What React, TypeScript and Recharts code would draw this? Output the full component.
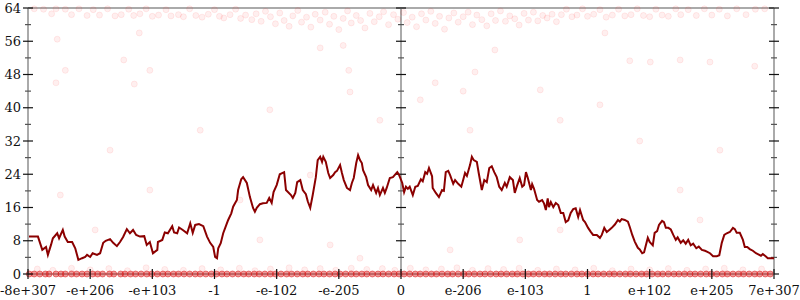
import React from "react";
import {
  ComposedChart,
  Line,
  Scatter,
  XAxis,
  YAxis,
  ReferenceLine,
} from "recharts";

// x 축 위치(-6..6)와 라벨
const xTicks = [-6, -5, -4, -3, -2, -1, 0, 1, 2, 3, 4, 5, 6];
const xLabels = [
  "-8e+307", "-e+206", "-e+103", "-1", "-e-102", "-e-205", "0",
  "e-206", "e-103", "1", "e+102", "e+205", "7e+307",
];
const yTicks = [0, 4, 8, 12, 16, 20, 24, 28, 32, 36, 40, 44, 48, 52, 56, 60, 64];

// 이동 평균 선
const lineX = [
  -6, -5.84, -5.77, -5.71, -5.68, -5.63, -5.6, -5.53, -5.5, -5.44,
  -5.41, -5.36, -5.29, -5.24, -5.19, -5.13, -5.08, -5.05, -5, -4.96,
  -4.89, -4.84, -4.79, -4.75, -4.68, -4.63, -4.57, -4.52, -4.47, -4.41,
  -4.36, -4.31, -4.26, -4.2, -4.13, -4.09, -4.04, -3.99, -3.92, -3.91,
  -3.84, -3.8, -3.75, -3.68, -3.65, -3.6, -3.57, -3.51, -3.44, -3.39,
  -3.35, -3.31, -3.25, -3.18, -3.12, -3.07, -3.02, -2.99, -2.96, -2.94,
  -2.9, -2.86, -2.81, -2.78, -2.73, -2.7, -2.67, -2.64, -2.62, -2.57,
  -2.54, -2.48, -2.43, -2.38, -2.35, -2.32, -2.27, -2.22, -2.16, -2.12,
  -2.08, -2.05, -2, -1.95, -1.88, -1.85, -1.77, -1.74, -1.7, -1.67,
  -1.62, -1.58, -1.53, -1.5, -1.46, -1.42, -1.37, -1.34, -1.3, -1.27,
  -1.25, -1.21, -1.17, -1.14, -1.09, -1.06, -1.03, -0.98, -0.95, -0.92,
  -0.87, -0.82, -0.79, -0.76, -0.72, -0.69, -0.66, -0.63, -0.61, -0.56,
  -0.53, -0.48, -0.45, -0.4, -0.37, -0.34, -0.29, -0.26, -0.23, -0.18,
  -0.13, -0.06, -0.03, 0.02, 0.05, 0.08, 0.11, 0.14, 0.19, 0.23,
  0.27, 0.32, 0.35, 0.39, 0.42, 0.45, 0.5, 0.51, 0.56, 0.61,
  0.66, 0.69, 0.72, 0.76, 0.79, 0.84, 0.87, 0.92, 0.97, 1,
  1.03, 1.06, 1.11, 1.14, 1.17, 1.22, 1.25, 1.3, 1.34, 1.38,
  1.42, 1.46, 1.5, 1.54, 1.58, 1.62, 1.67, 1.7, 1.75, 1.8,
  1.83, 1.87, 1.91, 1.95, 1.98, 2.01, 2.04, 2.09, 2.11, 2.14,
  2.19, 2.22, 2.27, 2.3, 2.33, 2.36, 2.38, 2.41, 2.45, 2.49,
  2.53, 2.57, 2.61, 2.65, 2.69, 2.73, 2.77, 2.81, 2.85, 2.88,
  2.93, 2.96, 3.01, 3.05, 3.09, 3.15, 3.2, 3.23, 3.27, 3.31,
  3.35, 3.39, 3.44, 3.49, 3.52, 3.55, 3.6, 3.65, 3.68, 3.72,
  3.76, 3.81, 3.84, 3.88, 3.91, 3.94, 3.97, 4, 4.05, 4.08,
  4.12, 4.15, 4.2, 4.23, 4.26, 4.3, 4.34, 4.38, 4.42, 4.45,
  4.5, 4.54, 4.58, 4.62, 4.66, 4.7, 4.75, 4.79, 4.84, 4.89,
  4.92, 4.97, 5.02, 5.08, 5.12, 5.16, 5.2, 5.24, 5.29, 5.34,
  5.37, 5.4, 5.45, 5.5, 5.53, 5.57, 5.61, 5.66, 5.71, 5.74,
  5.79, 5.82, 5.87, 5.9, 6,
];
const lineY = [
  9, 9, 5.8, 6.5, 4.6, 7, 8.6, 9.8, 8.6, 10.6,
  9, 7.7, 7.7, 6.2, 3.4, 3.8, 4.1, 4.6, 4.1, 5,
  4.6, 5, 7.5, 8, 8.4, 7.5, 6.7, 7.7, 8.9, 10.8,
  9.8, 10.6, 9.4, 9, 9.1, 7, 7.7, 5, 5.8, 7.7,
  8.2, 10, 9.8, 11.5, 10, 9.8, 11.2, 10.6, 9.8, 12.2,
  9.9, 11.8, 12, 11.5, 9, 7.5, 6.5, 4.1, 3.8, 6.2,
  7.4, 9.8, 11.8, 13, 14.6, 16.2, 17, 17.8, 20.2, 22.8,
  23.3, 21.9, 18.5, 15.9, 15, 15.9, 16.8, 17, 17.1, 18.3,
  17.1, 19.7, 21.4, 24, 24.5, 20.2, 19, 18.3, 19.5, 22.1,
  22.6, 20.2, 19.2, 17.5, 15.9, 19, 23.3, 27.4, 28.2, 27,
  28.2, 27, 24.3, 23.1, 23.8, 24.5, 24.8, 26.2, 24.3, 22.6,
  20.7, 20.2, 21.9, 23.1, 26.7, 28.6, 27.4, 26.7, 25, 23.3,
  21.4, 20.2, 21.4, 19.5, 20.7, 19, 20.7, 19.5, 20.7, 23.1,
  23.3, 24.5, 23.8, 21.9, 19.7, 21, 20.5, 21, 19, 21,
  21.2, 22.8, 22.3, 24.5, 24.1, 25.5, 23.5, 20.7, 19.5, 18.5,
  20.2, 20, 24.5, 24.8, 23.8, 21.7, 22.6, 21.7, 21, 22.6,
  24.3, 23.6, 26.2, 28.2, 27.4, 27, 24.3, 20.2, 22.6, 22.1,
  25.5, 25.9, 24.5, 23.3, 21, 20.2, 21.9, 21, 23.3, 22.6,
  19.5, 21.4, 23.1, 21, 21.4, 24.5, 23.1, 20.2, 21.6, 20.5,
  17.8, 17.4, 17.8, 17, 15.4, 18.2, 16.1, 17.3, 16.1, 17.1,
  16.6, 14.7, 14.7, 12.5, 12.9, 14.7, 15.6, 15.8, 13.7, 15.4,
  13, 12.5, 11.1, 10.2, 9.4, 9.4, 8.7, 9.4, 11.1, 10.1,
  10.6, 11.1, 11.9, 13, 12.6, 13.2, 13, 12.6, 11.3, 9.4,
  7.8, 6.3, 5.9, 5, 5.2, 7, 8.7, 7.7, 6.9, 9.9,
  10.3, 11.8, 12.8, 12.5, 11.1, 11.1, 10.7, 9.4, 8.2, 8.8,
  7.5, 8.1, 7.3, 8.2, 6.9, 7.3, 6.2, 6.6, 5.8, 5.6,
  5.4, 5, 4.3, 4.3, 4.5, 7.5, 9.4, 9.8, 10.1, 11.1,
  10.8, 9.9, 9.9, 8.2, 6.5, 6.5, 6, 5.6, 5, 4.8,
  4.4, 4.8, 4.2, 3.8, 3.8,
];

// 상단 띠 (60~64)
const topPoints: [number, number][] = [
  [-5.9, 63.8], [-5.75, 63.7], [-5.62, 62.6], [-5.55, 63.8], [-5.4, 63.7], [-5.3, 62.4],
  [-5.18, 63.8], [-5.05, 62.2], [-4.95, 63.6], [-4.85, 62.3], [-4.72, 63.8], [-4.6, 62.1],
  [-4.5, 62.4], [-4.38, 63.7], [-4.3, 62.2], [-4.2, 62.6], [-4.1, 63.8], [-4.0, 62.0],
  [-3.9, 62.3], [-3.78, 63.6], [-3.7, 62.1], [-3.58, 62.4], [-3.5, 61.9], [-3.4, 63.8],
  [-3.3, 62.2], [-3.2, 61.8], [-3.1, 62.5], [-3.0, 63.6], [-2.92, 62.0], [-2.85, 61.6],
  [-2.75, 62.4], [-2.66, 63.7], [-2.58, 61.5], [-2.5, 62.3], [-2.4, 61.2], [-2.33, 62.6],
  [-2.25, 60.8], [-2.18, 63.2], [-2.1, 61.9], [-2.02, 60.2], [-1.95, 62.8], [-1.88, 61.0],
  [-1.8, 59.6], [-1.74, 62.1], [-1.66, 63.4], [-1.6, 60.6], [-1.52, 61.8], [-1.45, 59.4],
  [-1.38, 62.5], [-1.3, 61.1], [-1.22, 63.0], [-1.15, 60.1], [-1.08, 62.0], [-1.0, 58.8],
  [-0.93, 61.5], [-0.86, 63.3], [-0.8, 60.4], [-0.72, 62.2], [-0.65, 61.0], [-0.58, 59.2],
  [-0.5, 62.7], [-0.43, 60.7], [-0.35, 61.9], [-0.28, 63.1], [-0.2, 60.0], [-0.12, 62.4],
  [-0.05, 61.3], [0.04, 62.9], [0.1, 60.5], [0.18, 61.8], [0.25, 59.5], [0.33, 62.6],
  [0.4, 61.1], [0.48, 63.2], [0.55, 60.3], [0.62, 62.0], [0.7, 58.9], [0.77, 61.6],
  [0.85, 62.8], [0.92, 60.6], [1.0, 61.9], [1.08, 63.0], [1.15, 60.0], [1.22, 62.3],
  [1.3, 61.2], [1.38, 59.7], [1.45, 62.6], [1.52, 61.0], [1.6, 63.3], [1.68, 60.8],
  [1.75, 62.1], [1.83, 61.4], [1.9, 59.9], [1.98, 62.7], [2.05, 61.1], [2.13, 63.0],
  [2.2, 60.9], [2.28, 62.2], [2.35, 61.6], [2.43, 62.5], [2.5, 60.7], [2.58, 62.4],
  [2.66, 63.7], [2.75, 61.9], [2.83, 62.3], [2.92, 63.8], [3.0, 62.0], [3.1, 62.5],
  [3.2, 63.6], [3.3, 61.8], [3.4, 62.3], [3.5, 63.7], [3.6, 62.1], [3.7, 62.4],
  [3.8, 63.8], [3.9, 62.2], [4.0, 61.9], [4.1, 63.7], [4.2, 62.3], [4.3, 62.0],
  [4.42, 63.8], [4.5, 62.4], [4.62, 63.6], [4.75, 62.2], [4.88, 63.8], [5.0, 62.3],
  [5.12, 63.7], [5.25, 62.1], [5.4, 63.8], [5.55, 62.4], [5.7, 63.7], [5.85, 63.8],
];

// 흩어진 점
const sparsePoints: [number, number][] = [
  [-5.53, 56.5], [-5.4, 49], [-5.55, 46], [-4.46, 51.5], [-4.21, 58], [-4.04, 49],
  [-4.29, 45.7], [-1.3, 54.4], [-0.93, 55], [-0.84, 49], [-0.82, 43.8], [0.55, 46],
  [1.0, 44], [1.19, 48.6], [1.51, 53.9], [3.28, 58], [3.68, 51.3], [4.01, 51],
  [4.49, 51.5], [4.97, 51], [5.69, 50], [-3.23, 34.6], [-2.11, 39.5], [-4.68, 29.8],
  [-1.46, 23.8], [1.11, 34.6], [2.56, 37], [3.84, 32], [5.13, 29.8], [-4.92, 10.6],
  [-2.27, 8.2], [-1.14, 7], [-0.66, 3.8], [0.79, 5.8], [1.91, 8.2], [2.56, 10.6],
  [4.81, 13], [4.49, 20.2], [-4.04, 20.2], [-2.59, 17.8], [-5.48, 19], [-0.34, 37],
  [0.31, 41.9], [2.24, 44.3], [3.2, 40.7],
];

// 하단 (약 1)
const lowPoints: [number, number][] = [
  [-5.85, 1.2], [-5.6, 0.9], [-5.3, 1.4], [-5.0, 1.0], [-4.7, 1.3], [-4.4, 0.8],
  [-4.1, 1.5], [-3.8, 1.1], [-3.5, 0.9], [-3.2, 1.3], [-2.9, 1.0], [-2.6, 1.4],
  [-2.35, 0.8], [-2.1, 1.2], [-1.8, 1.5], [-1.55, 1.0], [-1.3, 1.3], [-1.05, 0.9],
  [-0.8, 1.4], [-0.55, 1.1], [-0.3, 1.3], [-0.1, 0.9], [0.15, 1.4], [0.4, 1.0],
  [0.65, 1.2], [0.9, 1.5], [1.15, 0.9], [1.4, 1.3], [1.65, 1.1], [1.9, 1.4],
  [2.2, 0.9], [2.5, 1.2], [2.8, 1.0], [3.1, 1.4], [3.4, 0.8], [3.7, 1.2],
  [4.0, 1.0], [4.3, 1.3], [4.6, 0.9], [4.9, 1.2], [5.2, 1.4], [5.5, 1.0], [5.8, 1.2],
];

// 값이 0인 점들의 x 위치
const zeroX = [
  -5.98, -5.9, -5.81, -5.72, -5.66, -5.55, -5.47, -5.4, -5.3, -5.22, -5.13, -5.05,
  -4.96, -4.88, -4.8, -4.69, -4.62, -4.51, -4.44, -4.35, -4.27, -4.18, -4.09, -4.01,
  -3.92, -3.83, -3.75, -3.66, -3.58, -3.49, -3.4, -3.31, -3.23, -3.14, -3.05, -2.97,
  -2.88, -2.8, -2.71, -2.62, -2.53, -2.45, -2.36, -2.28, -2.19, -2.1, -2.02, -1.93,
  -1.84, -1.76, -1.67, -1.58, -1.5, -1.41, -1.32, -1.24, -1.15, -1.06, -0.98, -0.89,
  -0.8, -0.72, -0.63, -0.55, -0.46, -0.37, -0.29, -0.2, -0.11, -0.03, 0.05, 0.14,
  0.23, 0.31, 0.4, 0.49, 0.57, 0.66, 0.75, 0.83, 0.92, 1.01, 1.09, 1.18,
  1.27, 1.35, 1.44, 1.53, 1.61, 1.7, 1.79, 1.87, 1.96, 2.05, 2.13, 2.22,
  2.31, 2.39, 2.48, 2.57, 2.65, 2.74, 2.83, 2.91, 3, 3.09, 3.17, 3.26,
  3.35, 3.43, 3.52, 3.61, 3.69, 3.78, 3.87, 3.95, 4.04, 4.13, 4.21, 4.3,
  4.39, 4.47, 4.56, 4.65, 4.73, 4.82, 4.91, 4.99, 5.08, 5.17, 5.25, 5.34,
  5.43, 5.51, 5.6, 5.69, 5.77, 5.86, 5.94,
];

const FONT = "'DejaVu Serif', serif";
const AXIS = "#aaaaaa";

const lineData = lineX.map((x, i) => ({ x, y: lineY[i] }));
const toObj = (pts: [number, number][]) => pts.map(([x, y]) => ({ x, y }));
const scatterData = [
  ...toObj(topPoints),
  ...toObj(sparsePoints),
  ...toObj(lowPoints),
  ...zeroX.map((x) => ({ x, y: 0 })),
];

// 값 0인 점은 겹쳐서 진한 띠가 되도록 더 진하게
const Dot = (props: any) => {
  const zero = props.payload && props.payload.y === 0;
  return (
    <circle
      cx={props.cx}
      cy={props.cy}
      r={3}
      fill={zero ? "rgba(220,25,25,0.45)" : "rgba(255,30,30,0.07)"}
      stroke={zero ? "rgba(220,25,25,0.5)" : "rgba(255,30,30,0.08)"}
      strokeWidth={1}
    />
  );
};

const YTick = (props: any) => {
  const { x, y, payload } = props;
  const v = payload.value;
  const major = v % 8 === 0;
  return (
    <g>
      <line
        x1={x - (major ? 5 : 3)}
        x2={x + (major ? 5 : 3)}
        y1={y}
        y2={y}
        stroke={major ? "#111" : "#555"}
        strokeWidth={1.2}
      />
      {major && (
        <text x={x - 7} y={y + 4.5} textAnchor="end" fontFamily={FONT} fontSize={13} fill="#111">
          {v}
        </text>
      )}
    </g>
  );
};

const XTick = (props: any) => {
  const { x, y, payload } = props;
  const idx = xTicks.indexOf(payload.value);
  return (
    <g>
      <line x1={x} x2={x} y1={y - 5} y2={y + 5} stroke="#111" strokeWidth={1.2} />
      <text x={x} y={y + 21} textAnchor="middle" fontFamily={FONT} fontSize={13} fill="#111">
        {xLabels[idx]}
      </text>
    </g>
  );
};

// 가운데/오른쪽 세로 축 (양쪽 눈금)
const VAxis = (props: any) => {
  const { x1, y1, y2 } = props;
  const top = Math.min(y1, y2);
  const bottom = Math.max(y1, y2);
  return (
    <g>
      <line x1={x1} x2={x1} y1={top} y2={bottom} stroke={AXIS} strokeWidth={2} />
      {yTicks.map((v) => {
        const major = v % 8 === 0;
        const yy = bottom - ((bottom - top) * v) / 64;
        const h = major ? 5 : 3;
        return (
          <line
            key={v}
            x1={x1 - h}
            x2={x1 + h}
            y1={yy}
            y2={yy}
            stroke={major ? "#111" : "#555"}
            strokeWidth={1.2}
          />
        );
      })}
    </g>
  );
};

export default function App() {
  return (
    <div style={{ width: 800, height: 300 }}>
      <style>{"body{margin:0}"}</style>
      <ComposedChart
        width={800}
        height={300}
        margin={{ top: 8, right: 26, bottom: 0, left: 0 }}
      >
        <XAxis
          type="number"
          dataKey="x"
          domain={[-6, 6]}
          ticks={xTicks}
          interval={0}
          height={26}
          tickSize={0}
          tickMargin={0}
          tick={(p: any) => <XTick {...p} />}
          axisLine={{ stroke: AXIS, strokeWidth: 2 }}
        />
        <YAxis
          type="number"
          dataKey="y"
          domain={[0, 64]}
          ticks={yTicks}
          interval={0}
          width={28}
          tickSize={0}
          tickMargin={0}
          tick={(p: any) => <YTick {...p} />}
          axisLine={{ stroke: AXIS, strokeWidth: 2 }}
        />
        <ReferenceLine y={64} stroke={AXIS} strokeWidth={2} />
        <ReferenceLine x={0} shape={(p: any) => <VAxis {...p} />} />
        <ReferenceLine x={6} shape={(p: any) => <VAxis {...p} />} />
        <Scatter data={scatterData} shape={(p: any) => <Dot {...p} />} isAnimationActive={false} />
        <Line
          data={lineData}
          dataKey="y"
          type="linear"
          stroke="#8b0000"
          strokeWidth={2}
          dot={false}
          isAnimationActive={false}
        />
      </ComposedChart>
    </div>
  );
}
